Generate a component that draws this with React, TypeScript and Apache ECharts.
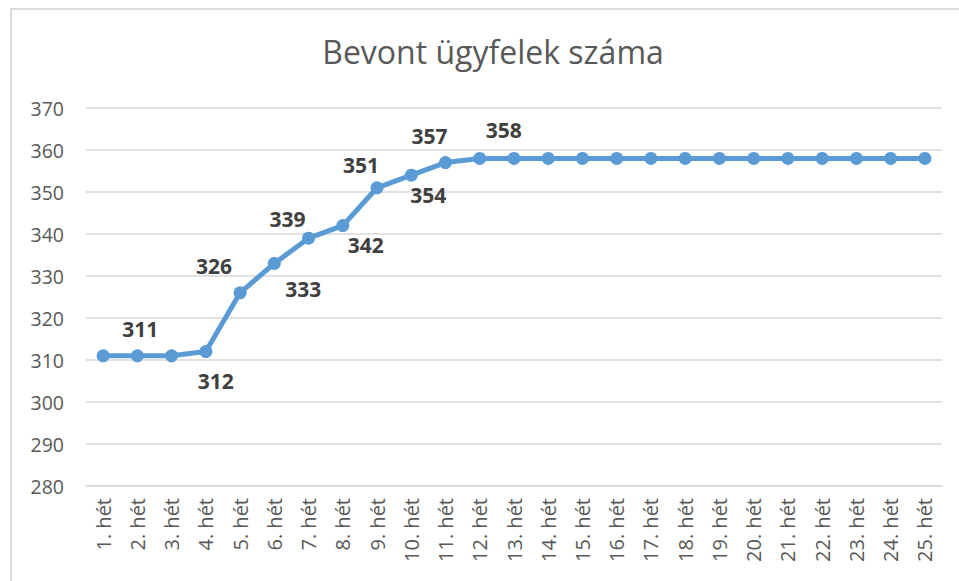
import React, { useEffect, useRef } from "react";
import * as echarts from "echarts";

const title = "Bevont ügyfelek száma";
const weeks = [
  "1. hét", "2. hét", "3. hét", "4. hét", "5. hét", "6. hét", "7. hét", "8. hét", "9. hét", "10. hét",
  "11. hét", "12. hét", "13. hét", "14. hét", "15. hét", "16. hét", "17. hét", "18. hét", "19. hét", "20. hét",
  "21. hét", "22. hét", "23. hét", "24. hét", "25. hét",
];
const clients = [311, 311, 311, 312, 326, 333, 339, 342, 351, 354, 357, 358, 358, 358, 358, 358, 358, 358, 358, 358, 358, 358, 358, 358, 358];
const yMin = 280;
const yMax = 370;
const yStep = 10;

// label placement (style only): index -> offset from point
const labelOffsets: Record<number, [number, number]> = {
  1: [3, -27],
  3: [10, 29],
  4: [-26, -27],
  5: [29, 26],
  6: [-21, -19],
  7: [23, 19],
  8: [-16, -23],
  9: [17, 20],
  10: [-16, -27],
  11: [24, -28],
};

export default function App() {
  const ref = useRef<HTMLDivElement>(null);
  useEffect(() => {
    if (!ref.current) return;
    const chart = echarts.init(ref.current, undefined, { renderer: "svg" });
    const font = "'Open Sans', 'Noto Sans', sans-serif";
    const data = clients.map((v, i) => {
      const off = labelOffsets[i];
      if (!off) return { value: v, label: { show: false } };
      return {
        value: v,
        label: {
          show: true,
          position: "inside",
          offset: off,
          align: "center",
          verticalAlign: "middle",
        },
      };
    });
    chart.setOption({
      animation: false,
      backgroundColor: "#ffffff",
      title: {
        text: title,
        left: 488,
        textAlign: "center",
        top: 30,
        textStyle: { fontFamily: font, fontSize: 32, fontWeight: "normal", color: "#595959" },
      },
      graphic: [
        {
          type: "rect",
          shape: { x: 11, y: 9, width: 980, height: 620 },
          style: { fill: "none", stroke: "#d9d9d9", lineWidth: 2 },
          silent: true,
        },
      ],
      grid: { left: 86, right: 17, top: 108, bottom: 95, containLabel: false },
      xAxis: {
        type: "category",
        data: weeks,
        boundaryGap: true,
        axisLine: { show: true, lineStyle: { color: "#d9d9d9", width: 1.5 } },
        axisTick: { show: false },
        axisLabel: {
          rotate: 90,
          interval: 0,
          margin: 12,
          fontFamily: font,
          fontSize: 20,
          color: "#595959",
        },
      },
      yAxis: {
        type: "value",
        min: yMin,
        max: yMax,
        interval: yStep,
        axisLine: { show: false },
        axisTick: { show: false },
        splitLine: { lineStyle: { color: "#d9d9d9", width: 1.5 } },
        axisLabel: { margin: 22, fontFamily: font, fontSize: 19.5, color: "#595959" },
      },
      series: [
        {
          type: "line",
          data,
          symbol: "circle",
          symbolSize: 13,
          lineStyle: { color: "#5B9BD5", width: 5 },
          itemStyle: { color: "#5B9BD5" },
          label: {
            fontFamily: font,
            fontSize: 21,
            fontWeight: "bold",
            color: "#404040",
          },
        },
      ],
    });
    return () => chart.dispose();
  }, []);
  return (
    <div
      ref={ref}
      style={{ position: "fixed", left: 0, top: 0, width: 959, height: 581 }}
    />
  );
}
